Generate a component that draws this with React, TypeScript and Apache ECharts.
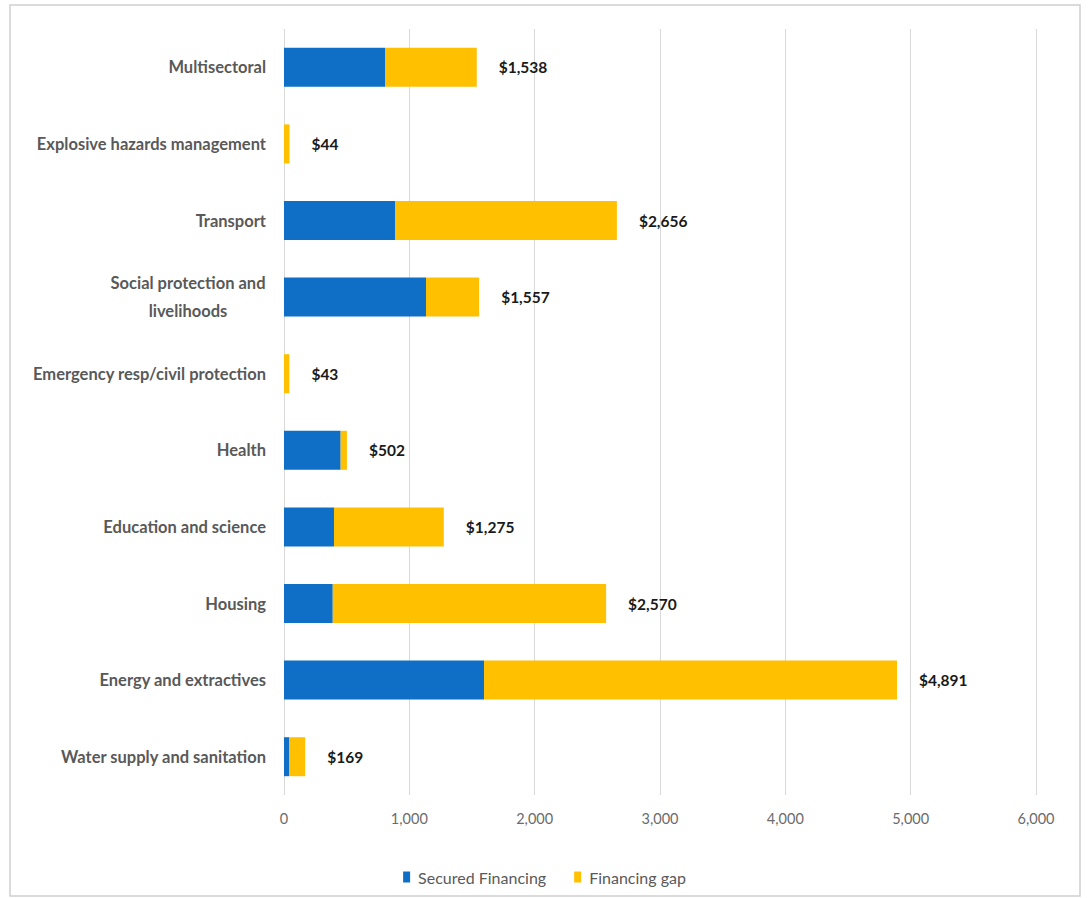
import React, { useEffect, useRef } from "react";
import * as echarts from "echarts";

const categories = [
  "Multisectoral",
  "Explosive hazards management",
  "Transport",
  "Social protection and\nlivelihoods",
  "Emergency resp/civil protection",
  "Health",
  "Education and science",
  "Housing",
  "Energy and extractives",
  "Water supply and sanitation",
];
const secured = [806, 0, 886, 1133, 0, 452, 399, 389, 1596, 40];
const gap = [732, 44, 1770, 424, 43, 50, 876, 2181, 3295, 129];
const totalLabels = ["$1,538", "$44", "$2,656", "$1,557", "$43", "$502", "$1,275", "$2,570", "$4,891", "$169"];
const xTicks = [0, 1000, 2000, 3000, 4000, 5000, 6000];

const CAT_FONT_SIZE = 16.5;
const FONT = "Lato, sans-serif";

function measure(text: string): number {
  const c = document.createElement("canvas");
  const ctx = c.getContext("2d");
  if (!ctx) return text.length * 8;
  ctx.font = `bold ${CAT_FONT_SIZE}px Lato, sans-serif`;
  return ctx.measureText(text).width;
}

export default function App() {
  const ref = useRef<HTMLDivElement>(null);
  useEffect(() => {
    if (!ref.current) return;
    const chart = echarts.init(ref.current, null, { renderer: "svg" });
    const catStyle = {
      color: "#595959",
      fontSize: CAT_FONT_SIZE,
      fontWeight: "bold" as const,
      fontFamily: FONT,
    };
    const wrapWidth = Math.max(
      ...categories.filter((c) => c.includes("\n")).flatMap((c) => c.split("\n").map(measure)),
      0
    );
    chart.setOption({
      animation: false,
      backgroundColor: "#ffffff",
      textStyle: { fontFamily: FONT },
      graphic: [
        {
          type: "rect",
          shape: { x: 10, y: 5, width: 1070, height: 891 },
          style: { fill: "none", stroke: "#d0d0d0", lineWidth: 1.5 },
          silent: true,
        },
      ],
      grid: { left: 284, right: 53, top: 29, bottom: 103 },
      legend: {
        bottom: 8,
        left: "center",
        itemWidth: 7,
        itemHeight: 11,
        itemGap: 28,
        icon: "rect",
        textStyle: { color: "#595959", fontSize: 16, fontFamily: FONT, padding: [0, 0, 0, 3] },
        data: ["Secured Financing", "Financing gap"],
      },
      xAxis: {
        type: "value",
        min: 0,
        max: 6000,
        interval: 1000,
        axisLine: { show: false },
        axisTick: { show: false },
        splitLine: { lineStyle: { color: "#d9d9d9", width: 1 } },
        axisLabel: {
          color: "#6b6b6b",
          fontSize: 14.5,
          margin: 16,
          formatter: (v: number) => (xTicks.includes(v) ? v.toLocaleString("en-US") : ""),
        },
      },
      yAxis: {
        type: "category",
        inverse: true,
        data: categories,
        axisLine: { show: false },
        axisTick: { show: false },
        axisLabel: {
          ...catStyle,
          margin: 18,
          align: "right",
          formatter: (v: string) =>
            v.includes("\n")
              ? v.split("\n").map((l) => `{c|${l}}`).join("\n")
              : `{a|${v}}`,
          rich: {
            a: { ...catStyle },
            c: { ...catStyle, lineHeight: 28, align: "center", width: wrapWidth + 1 },
          },
        },
      },
      series: [
        {
          name: "Secured Financing",
          type: "bar",
          stack: "total",
          barWidth: 39,
          itemStyle: { color: "#0F6FC6" },
          data: secured,
        },
        {
          name: "Financing gap",
          type: "bar",
          stack: "total",
          barWidth: 39,
          itemStyle: { color: "#FFC000" },
          data: gap,
          label: {
            show: true,
            position: "right",
            distance: 22,
            color: "#1a1a1a",
            fontSize: 15.5,
            fontWeight: "bold",
            fontFamily: FONT,
            formatter: (p: any) => totalLabels[p.dataIndex],
          },
        },
      ],
    });
    return () => chart.dispose();
  }, []);
  return (
    <div
      ref={ref}
      style={{ position: "fixed", left: 0, top: 0, width: 1089, height: 898 }}
    />
  );
}
